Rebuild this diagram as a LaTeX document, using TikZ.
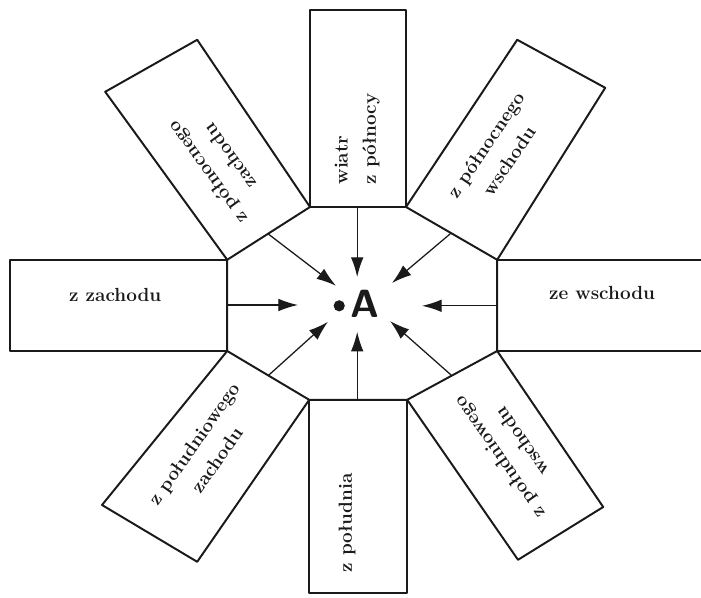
\documentclass[tikz,border=0pt]{standalone}
\usepackage{xcolor}
\usepackage{tikz}
\usetikzlibrary{arrows.meta}
\definecolor{WRInk}{HTML}{1A1A1A}

\begin{document}
\begin{tikzpicture}[x=1cm,y=1cm,
  wall/.style={draw=WRInk,line width=1.4pt,line join=round},
  windarrow/.style={draw=WRInk,line width=0.9pt,-{Latex[length=14pt,width=9pt]}},
  windlabel/.style={align=center,text=WRInk,font=\fontsize{13.5}{20}\selectfont\bfseries}]
\path[use as bounding box] (0,0) rectangle (17.525,14.925);
% octagon
\coordinate (o1) at (7.75,9.75);
\coordinate (o2) at (10.15,9.75);
\coordinate (o3) at (12.43,8.43);
\coordinate (o4) at (12.43,6.15);
\coordinate (o5) at (10.18,4.93);
\coordinate (o6) at (7.73,4.93);
\coordinate (o7) at (5.68,6.15);
\coordinate (o8) at (5.68,8.43);
\draw[wall] (o1) -- (o2) -- (o3) -- (o4) -- (o5) -- (o6) -- (o7) -- (o8) -- cycle;
% outer corners of the wind boxes
\coordinate (nL) at (7.75,14.68);
\coordinate (nR) at (10.15,14.68);
\coordinate (neA) at (12.93,13.93);
\coordinate (neB) at (15.13,12.73);
\coordinate (eT) at (17.60,8.43);
\coordinate (eB) at (17.60,6.15);
\coordinate (seA) at (15.08,2.25);
\coordinate (seB) at (12.95,0.93);
\coordinate (sR) at (10.18,0.10);
\coordinate (sL) at (7.73,0.10);
\coordinate (swA) at (4.93,0.88);
\coordinate (swB) at (2.55,2.30);
\coordinate (wB) at (0.25,6.15);
\coordinate (wT) at (0.25,8.43);
\coordinate (nwA) at (2.63,12.63);
\coordinate (nwB) at (4.93,13.93);
\draw[wall] (o1) -- (nL) -- (nR) -- (o2);
\draw[wall] (o2) -- (neA) -- (neB) -- (o3);
\draw[wall] (o3) -- (eT);
\draw[wall] (o4) -- (eB);
\draw[wall] (o4) -- (seA) -- (seB) -- (o5);
\draw[wall] (o5) -- (sR) -- (sL) -- (o6);
\draw[wall] (o6) -- (swA) -- (swB) -- (o7);
\draw[wall] (o7) -- (wB) -- (wT) -- (o8);
\draw[wall] (o8) -- (nwA) -- (nwB) -- (o1);
% labels
\node[windlabel,align=left,rotate=90] (lN) at (8.93,11.45) {wiatr\\z północy};
\node[windlabel,rotate=56] (lNE) at (12.43,11.10) {z północnego\\wschodu};
\node[windlabel] (lE) at (15.05,7.60) {ze wschodu};
\node[windlabel,rotate=125] (lSE) at (12.75,3.68) {z południowego\\wschodu};
\node[windlabel,rotate=90] (lS) at (8.68,1.85) {z południa};
\node[windlabel,rotate=55] (lSW) at (5.13,3.63) {z południowego\\zachodu};
\node[windlabel] (lW) at (2.88,7.55) {z zachodu};
\node[windlabel,rotate=126] (lNW) at (5.45,10.80) {z północnego\\zachodu};
% point A and the winds
\fill[WRInk] (8.48,7.28) circle (0.14);
\node[text=WRInk,font=\fontsize{28}{30}\selectfont\sffamily\bfseries] (pA) at (9.13,7.33) {A};
\coordinate (inN) at (8.93,9.75);
\coordinate (inNE) at (11.28,9.10);
\coordinate (inE) at (12.43,7.28);
\coordinate (inSE) at (11.30,5.53);
\coordinate (inS) at (8.93,4.93);
\coordinate (inSW) at (6.70,5.53);
\coordinate (inW) at (5.68,7.30);
\coordinate (inNW) at (6.70,9.08);
\coordinate (tN) at (8.93,8.00);
\coordinate (tNE) at (9.80,7.85);
\coordinate (tE) at (10.55,7.28);
\coordinate (tSE) at (9.75,6.90);
\coordinate (tS) at (8.93,6.63);
\coordinate (tSW) at (8.20,6.88);
\coordinate (tW) at (7.45,7.30);
\coordinate (tNW) at (8.40,7.78);
\foreach \d in {N,NE,E,SE,S,SW,W,NW}
  \draw[windarrow] (in\d) -- (t\d);
\end{tikzpicture}
\end{document}
